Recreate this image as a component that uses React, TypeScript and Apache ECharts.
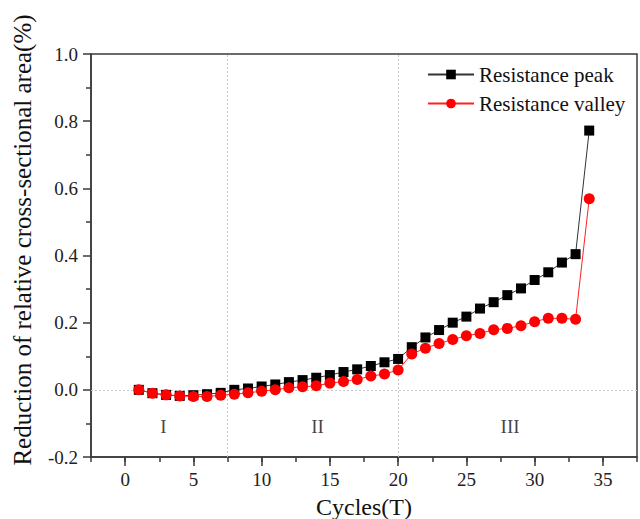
import React, { useEffect, useRef } from 'react';
import * as echarts from 'echarts';

const cycles = [1, 2, 3, 4, 5, 6, 7, 8, 9, 10, 11, 12, 13, 14, 15, 16, 17, 18, 19, 20, 21, 22, 23, 24, 25, 26, 27, 28, 29, 30, 31, 32, 33, 34];
const peak = [0.0, -0.01, -0.015, -0.018, -0.016, -0.013, -0.009, 0.0, 0.004, 0.01, 0.016, 0.023, 0.029, 0.036, 0.044, 0.053, 0.061, 0.071, 0.082, 0.092, 0.127, 0.156, 0.178, 0.2, 0.218, 0.242, 0.261, 0.282, 0.302, 0.327, 0.35, 0.379, 0.404, 0.772];
const valley = [0.0, -0.01, -0.015, -0.018, -0.02, -0.02, -0.016, -0.013, -0.009, -0.004, 0.0, 0.006, 0.009, 0.012, 0.02, 0.025, 0.031, 0.041, 0.047, 0.059, 0.107, 0.124, 0.138, 0.15, 0.161, 0.168, 0.179, 0.183, 0.191, 0.203, 0.213, 0.213, 0.21, 0.569];
const xMajorTicks = [0, 5, 10, 15, 20, 25, 30, 35];
const stageBoundaries = [7.5, 20];
const stageNames = ['I', 'II', 'III'];
const stageLabelX = [2.8, 14.1, 28.2];
const stageLabelY = -0.11;

const FONT = "'Liberation Serif', 'Times New Roman', serif";

export default function App() {
  const ref = useRef<HTMLDivElement>(null);
  useEffect(() => {
    if (!ref.current) return;
    const chart = echarts.init(ref.current, null, { renderer: 'svg' });
    const axisColor = '#3a3a3a';
    chart.setOption({
      animation: false,
      backgroundColor: '#ffffff',
      grid: {
        left: 91, right: 3, top: 54, bottom: 62,
        outerBoundsMode: 'none', containLabel: false,
        show: true, borderColor: axisColor, borderWidth: 1.5, backgroundColor: 'transparent'
      },
      legend: {
        data: ['Resistance peak', 'Resistance valley'],
        orient: 'vertical',
        left: 422, top: 59,
        itemWidth: 46, itemHeight: 12, itemGap: 8,
        textStyle: { fontFamily: FONT, fontSize: 21, color: '#111' }
      },
      graphic: [
        {
          type: 'text', x: 22, y: 240, rotation: Math.PI / 2,
          style: {
            text: 'Reduction of relative cross-sectional area(%)',
            font: `25px ${FONT}`, fill: '#111', textAlign: 'center', textVerticalAlign: 'middle'
          }
        }
      ],
      xAxis: [
        {
          type: 'value', min: -2.5, max: 37.5, interval: 2.5,
          name: 'Cycles(T)', nameLocation: 'middle', nameGap: 38,
          nameTextStyle: { fontFamily: FONT, fontSize: 24, color: '#111' },
          axisLine: { show: true, onZero: false, lineStyle: { color: axisColor, width: 1.5 } },
          axisTick: { show: true, length: 5, lineStyle: { color: axisColor, width: 1.5 } },
          axisLabel: {
            customValues: xMajorTicks,
            formatter: (v: number) => (v % 5 === 0 && v >= 0 && v <= 35 ? String(v) : ''),
            fontFamily: FONT, fontSize: 19, color: '#222', margin: 13
          },
          splitLine: { show: false }
        },
        {
          type: 'value', min: -2.5, max: 37.5, position: 'bottom', gridIndex: 0,
          axisLine: { show: false, onZero: false },
          axisTick: { show: true, customValues: xMajorTicks, length: 9, lineStyle: { color: axisColor, width: 1.5 } },
          axisLabel: { show: false },
          splitLine: { show: false }
        }
      ],
      yAxis: {
        type: 'value', min: -0.2, max: 1.0, interval: 0.2,
        axisLine: { show: true, onZero: false, lineStyle: { color: axisColor, width: 1.5 } },
        axisTick: { show: true, length: 8, lineStyle: { color: axisColor, width: 1.5 } },
        minorTick: { show: true, splitNumber: 2, length: 5, lineStyle: { color: axisColor, width: 1.5 } },
        axisLabel: {
          formatter: (v: number) => v.toFixed(1),
          fontFamily: FONT, fontSize: 19, color: '#222', margin: 13
        },
        splitLine: { show: false }
      },
      series: [
        {
          name: 'Resistance peak', type: 'line',
          data: cycles.map((c, i) => [c, peak[i]]),
          symbol: 'rect', symbolSize: 10,
          itemStyle: { color: '#000' },
          lineStyle: { color: '#333', width: 1 },
          z: 3,
          markLine: {
            silent: true, symbol: ['none', 'none'], label: { show: false },
            lineStyle: { color: '#c8c8c8', type: [2, 2], width: 1 },
            data: [...stageBoundaries.map((b) => ({ xAxis: b })), { yAxis: 0 }],
            z: 1
          }
        },
        {
          name: 'Resistance valley', type: 'line',
          data: cycles.map((c, i) => [c, valley[i]]),
          symbol: 'circle', symbolSize: 11,
          itemStyle: { color: '#ff0000' },
          lineStyle: { color: '#ff2020', width: 1 },
          z: 4
        },
        {
          name: 'stages', type: 'scatter', symbolSize: 0,
          data: stageNames.map((n, i) => ({ name: n, value: [stageLabelX[i], stageLabelY] })),
          label: {
            show: true, position: 'inside', formatter: '{b}',
            fontFamily: FONT, fontSize: 19, color: '#111'
          },
          silent: true
        }
      ]
    });
    return () => chart.dispose();
  }, []);
  return <div ref={ref} style={{ position: 'fixed', left: 0, top: 0, width: 640, height: 519 }} />;
}
